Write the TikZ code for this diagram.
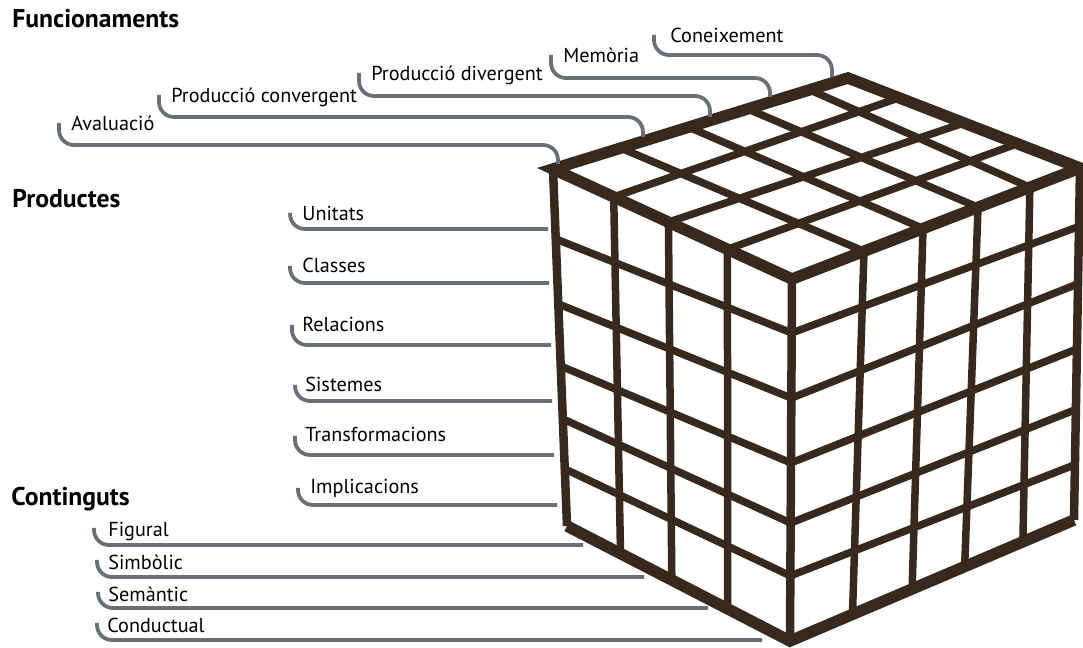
\documentclass[tikz,border=0pt]{standalone}
\usepackage{fontspec}
\setmainfont{PT Sans}
\usepackage{xcolor}
\usepackage{tikz}
\usetikzlibrary{calc}
\definecolor{cubebrown}{RGB}{56,41,30}
\definecolor{leadgray}{RGB}{104,110,122}
\tikzset{
    cubeline/.style={draw=cubebrown, line width=0.15cm},
    cubeedge/.style={draw=cubebrown, line width=0.17cm},
    cuberim/.style={draw=cubebrown, line width=0.23cm, line join=miter},
    lead/.style={draw=leadgray, line width=0.075cm, rounded corners=0.3cm},
    lbl/.style={anchor=base west, inner sep=0pt, font=\fontsize{11.5}{13}\selectfont},
    heading/.style={anchor=base west, inner sep=0pt, font=\fontsize{14.6}{16}\selectfont\bfseries}
}
\begin{document}
\begin{tikzpicture}[x=0.02cm,y=-0.02cm]
\useasboundingbox (0,0) rectangle (1083,648);
% cube corners
\coordinate (F) at (792,279);
\coordinate (L) at (553,169);
\coordinate (B) at (848,78);
\coordinate (R) at (1080,168);
\coordinate (FB) at (790,641);
\coordinate (LB) at (567,526);
\coordinate (RB) at (1074,520);
% top face
\foreach \u/\v in {0.25/0.23, 0.455/0.46, 0.646/0.66, 0.826/0.87}
    \draw[cubeline] ($(F)!\u!(R)$) -- ($(L)!\v!(B)$);
\foreach \u/\v in {0.27/0.27, 0.517/0.5, 0.746/0.78}
    \draw[cubeline] ($(F)!\u!(L)$) -- ($(R)!\v!(B)$);
% left and right faces
\foreach \u/\v in {0.27/0.28, 0.517/0.53, 0.746/0.76}
    \draw[cubeline] ($(F)!\u!(L)$) -- ($(FB)!\v!(LB)$);
\foreach \u/\v in {0.25/0.22, 0.455/0.43, 0.646/0.615, 0.826/0.82}
    \draw[cubeline] ($(F)!\u!(R)$) -- ($(FB)!\v!(RB)$);
\foreach \f/\g/\h in {0.149/0.196/0.166, 0.329/0.378/0.329, 0.508/0.552/0.514, 0.674/0.700/0.686, 0.820/0.840/0.843}
    \draw[cubeline] ($(L)!\g!(LB)$) -- ($(F)!\f!(FB)$) -- ($(R)!\h!(RB)$);
% outline
\draw[cubeedge] (L) -- (LB) (F) -- (FB) (R) -- (RB);
\draw[cuberim] (F) -- (L) -- (B) -- (R) -- cycle;
\draw[cuberim] (LB) -- (FB) -- (RB);

% headings
\node[heading] (hfun) at (12,28) {Funcionaments};
\node[heading] (hprod) at (12,208) {Productes};
\node[heading] (hcont) at (11,506) {Continguts};

% funcionaments
\node[lbl] (kn) at (670,43) {Coneixement};
\node[lbl] (mem) at (563,63) {Memòria};
\node[lbl] (div) at (371,81) {Producció divergent};
\node[lbl] (conv) at (171,103) {Producció convergent};
\node[lbl] (av) at (71,131) {Avaluació};
\coordinate (t1) at (558,164);
\coordinate (t2) at (643,137);
\coordinate (t3) at (710,117);
\coordinate (t4) at (770,97);
\coordinate (t5) at (832,77);
\draw[lead] ([shift={(-12,-8)}]av.base west) |- ($(t1 |- av.base)+(0,14)$) -- (t1);
\draw[lead] ([shift={(-12,-8)}]conv.base west) |- ($(t2 |- conv.base)+(0,14)$) -- (t2);
\draw[lead] ([shift={(-12,-8)}]div.base west) |- ($(t3 |- div.base)+(0,15)$) -- (t3);
\draw[lead] ([shift={(-12,-8)}]mem.base west) |- ($(t4 |- mem.base)+(0,15)$) -- (t4);
\draw[lead] ([shift={(-16,-8)}]kn.base west) |- ($(t5 |- kn.base)+(0,12)$) -- (t5);

% productes
\node[lbl] (un) at (302,221) {Unitats};
\node[lbl] (cl) at (302,273) {Classes};
\node[lbl] (rel) at (302,332) {Relacions};
\node[lbl] (sis) at (305,392) {Sistemes};
\node[lbl] (tra) at (305,442) {Transformacions};
\node[lbl] (imp) at (310,494) {Implicacions};
\coordinate (p1) at (548,229);
\coordinate (p2) at (549,283);
\coordinate (p3) at (551,345);
\coordinate (p4) at (552,401);
\coordinate (p5) at (554,455);
\coordinate (p6) at (557,505);
\draw[lead] ([shift={(-12,-8)}]un.base west) |- (p1);
\draw[lead] ([shift={(-12,-7)}]cl.base west) |- (p2);
\draw[lead] ([shift={(-10,-7)}]rel.base west) |- (p3);
\draw[lead] ([shift={(-10,-7)}]sis.base west) |- (p4);
\draw[lead] ([shift={(-10,-6)}]tra.base west) |- (p5);
\draw[lead] ([shift={(-12,-6)}]imp.base west) |- (p6);

% continguts
\node[lbl] (fig) at (108,537) {Figural};
\node[lbl] (sim) at (108,570) {Simbòlic};
\node[lbl] (sem) at (108,602) {Semàntic};
\node[lbl] (cond) at (107,633) {Conductual};
\coordinate (c1) at (583,545);
\coordinate (c2) at (644,577);
\coordinate (c3) at (708,608);
\coordinate (c4) at (762,640);
\draw[lead] ([shift={(-14,-9)}]fig.base west) |- (c1);
\draw[lead] ([shift={(-11,-10)}]sim.base west) |- (c2);
\draw[lead] ([shift={(-10,-10)}]sem.base west) |- (c3);
\draw[lead] ([shift={(-10,-10)}]cond.base west) |- (c4);
\end{tikzpicture}
\end{document}
